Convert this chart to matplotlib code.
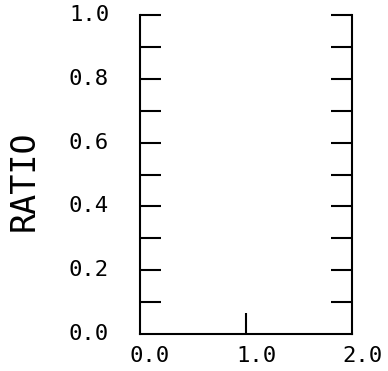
import numpy as np
import matplotlib
matplotlib.use("Agg")
import matplotlib.pyplot as plt
import matplotlib.transforms as mtransforms

# axis setup
xlim = (0.0, 2.0)
ylim = (0.0, 1.0)
x_ticks = [1.0]
x_labels_at = [0.0, 1.0, 2.0]
x_labels = ["0.0", "1.0", "2.0"]
y_ticks = [0.1, 0.2, 0.3, 0.4, 0.5, 0.6, 0.7, 0.8, 0.9, 1.0]
y_labels_at = [0.0, 0.2, 0.4, 0.6, 0.8, 1.0]
y_labels = ["0.0", "0.2", "0.4", "0.6", "0.8", "1.0"]
ylabel = "RATIO"

plt.rcParams['font.family'] = ['DejaVu Sans Mono']

fig = plt.figure(figsize=(3.88, 3.71), dpi=100)
ax = fig.add_axes([140/388, 37/371, 212/388, 319/371])
ax.set_xlim(*xlim)
ax.set_ylim(*ylim)

for s in ['left', 'right', 'bottom']:
    ax.spines[s].set_linewidth(1.5)
ax.spines['top'].set_visible(False)

# ticks drawn inwards, both sides
ax.set_xticks(x_ticks)
ax.set_xticklabels([])
ax.set_yticks(y_ticks)
ax.set_yticklabels([])
ax.tick_params(axis='y', direction='in', length=15, width=1.5, left=True, right=True)
ax.tick_params(axis='x', direction='in', length=15, width=1.5, top=False)

# labels placed by hand with offsets like the original plotter
off = mtransforms.ScaledTranslation(10/100, -12/100, fig.dpi_scale_trans)
xtr = ax.get_xaxis_transform() + off
for v, t in zip(x_labels_at, x_labels):
    ax.text(v, 0, t, transform=xtr, ha='center', va='top', fontsize=16)

ytr = ax.get_yaxis_transform() + mtransforms.ScaledTranslation(-31/100, 0, fig.dpi_scale_trans)
for v, t in zip(y_labels_at, y_labels):
    ax.text(0, v, t, transform=ytr, ha='right', va='center', fontsize=16)

fig.text(24/388, 1 - 181/371, ylabel, rotation=90, ha='center', va='center', fontsize=24)

fig.savefig("out.png", dpi=100)
